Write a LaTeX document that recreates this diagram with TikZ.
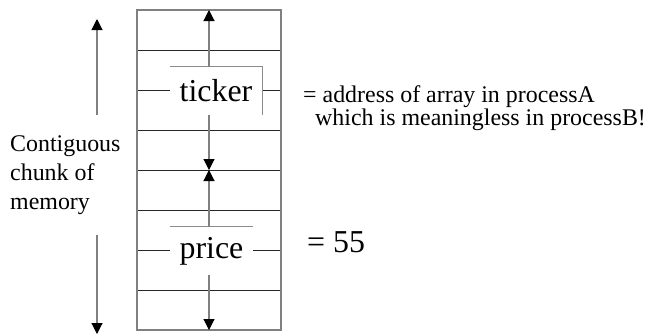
\documentclass[tikz,border=0pt]{standalone}
\usepackage{fontspec}
\setmainfont{Liberation Serif}
\usetikzlibrary{arrows.meta,positioning}

\begin{document}
\begin{tikzpicture}[x=1bp, y=-1bp,
        cell/.style={draw=black!85, line width=0.9bp},
        wall/.style={draw=black!50, line width=1.1bp},
        ptr/.style={-{Triangle[width=11bp,length=11bp,color=black]}, draw=black!50, line width=1.1bp},
        frame/.style={draw=black!45, line width=0.7bp},
        field/.style={fill=white, inner sep=0pt, minimum height=48bp, font=\fontsize{32}{38}\selectfont},
        note/.style={inner sep=0pt, align=left, anchor=west, font=\fontsize{24}{23}\selectfont}
    ]
    \useasboundingbox (0,0) rectangle (657,335);

    % ---- MEMORY BLOCK ----
    \foreach \y in {50,90,130,170,210,250,290}
        \draw[cell] (137,\y) -- (281,\y);
    \draw[wall] (137,10) rectangle (281,330);

    \coordinate (top) at (209,10);
    \coordinate (mid) at (209,170);
    \coordinate (bot) at (209,330);

    \node[field, minimum width=92bp] (ticker) at (216,91) {ticker};
    \node[field, minimum width=83bp] (price) at (211.5,251) {price};

    \draw[frame] (ticker.south east) |- (ticker.north west);
    \draw[frame] (price.north west) -- (price.north east);

    \draw[ptr] (ticker.north -| top) -- (top);
    \draw[ptr] (ticker.south -| mid) -- (mid);
    \draw[ptr] (price.north -| mid) -- (mid);
    \draw[ptr] (price.south -| bot) -- (bot);

    % ---- LABELS ----
    \node[note] (addr) at (303,108)
        {= address of array in processA\\\hspace{12bp}which is meaningless in processB!};
    \node[anchor=west, inner sep=0pt, font=\fontsize{32}{38}\selectfont] (val) at (307,242) {= 55};

    \node[note, font=\fontsize{24}{29}\selectfont] (chunk) at (10,175)
        {Contiguous\\chunk of\\memory};

    \coordinate (upfrom) at (97,115);
    \coordinate (upto) at (97,19);
    \coordinate (downfrom) at (97,235);
    \coordinate (downto) at (97,334);
    \draw[ptr] (upfrom) -- (upto);
    \draw[ptr] (downfrom) -- (downto);

\end{tikzpicture}
\end{document}
